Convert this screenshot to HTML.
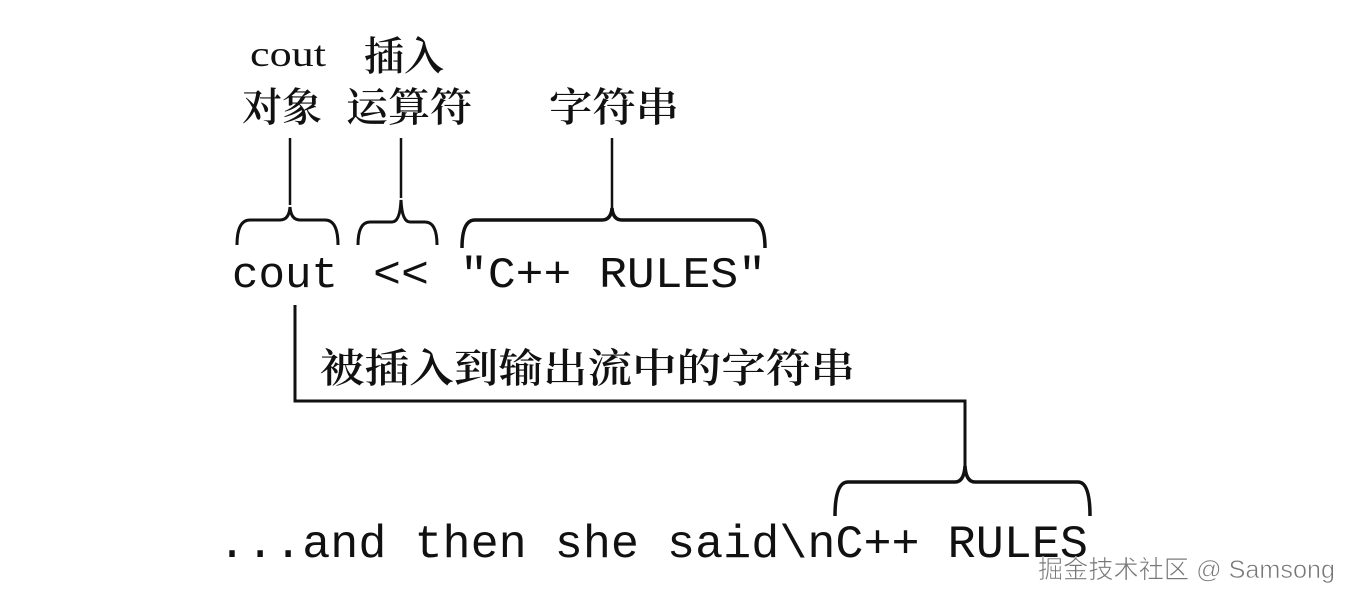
<!DOCTYPE html>
<html><head><meta charset="utf-8"><style>
html,body{margin:0;padding:0;background:#fff;}
svg{display:block;}
.cjk{font-family:"Liberation Serif","Noto Serif CJK SC","Noto Sans CJK SC",serif;fill:#111;}
.mono{font-family:"Liberation Mono",monospace;fill:#111;}
</style></head><body>
<svg width="1352" height="602" viewBox="0 0 1352 602" xmlns="http://www.w3.org/2000/svg">
<g class="cjk">
<text x="250" y="66" font-size="36" textLength="76" lengthAdjust="spacingAndGlyphs">cout</text>
<text x="364" y="70" font-size="40" font-weight="600">插入</text>
<text x="242" y="121" font-size="40" font-weight="600">对象</text>
<text x="346" y="121" font-size="40" font-weight="600" textLength="126" lengthAdjust="spacingAndGlyphs">运算符</text>
<text x="549" y="121" font-size="40" font-weight="600" textLength="130" lengthAdjust="spacingAndGlyphs">字符串</text>
<text x="320" y="382" font-size="40" font-weight="600" textLength="535" lengthAdjust="spacingAndGlyphs">被插入到输出流中的字符串</text>
</g>
<g fill="none" stroke="#111" stroke-width="2.5">
<line x1="290" y1="138" x2="290" y2="205"/>
<line x1="401" y1="138" x2="401" y2="198"/>
<line x1="612" y1="138" x2="612" y2="208"/>
<path d="M237 245 Q237 220 250 220 L280 220 Q289 220 290 207 Q291 220 300 220 L325 220 Q338 220 338 245" stroke-width="3"/>
<path d="M358 245 Q358 222 370 222 L392 222 Q400 222 401 200 Q402 222 410 222 L425 222 Q437 222 437 245" stroke-width="3"/>
<path d="M462 248 Q462 220 475 220 L602 220 Q611 220 612 208 Q613 220 622 220 L752 220 Q765 220 765 248" stroke-width="3.5"/>
<polyline points="295,305 295,401 965,401 965,466" stroke-width="3"/>
<path d="M835 516 Q835 482 848 482 L955 482 Q964 482 965 466 Q966 482 975 482 L1078 482 Q1090 482 1090 516" stroke-width="3.5"/>
</g>
<g class="mono" font-size="44">
<text x="232" y="287" textLength="106" lengthAdjust="spacingAndGlyphs">cout</text>
<text x="373" y="287" textLength="56" lengthAdjust="spacingAndGlyphs">&lt;&lt;</text>
<text x="460" y="287" textLength="306" lengthAdjust="spacingAndGlyphs">"C++ RULES"</text>
</g>
<text class="mono" x="218" y="557" font-size="46" textLength="870" lengthAdjust="spacingAndGlyphs">...and then she said\nC++ RULES</text>
<text x="1038" y="578" font-size="25" fill="#777" stroke="#fff" stroke-width="0.6" textLength="297" lengthAdjust="spacingAndGlyphs" style="font-family:'Liberation Sans','Noto Sans CJK SC',sans-serif">掘金技术社区 @ Samsong</text>
</svg>
</body></html>
